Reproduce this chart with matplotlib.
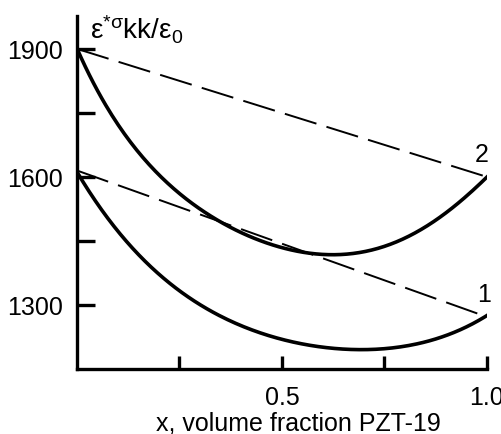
import numpy as np
import matplotlib.pyplot as plt

plt.rcParams['font.family'] = ['Liberation Sans', 'DejaVu Sans']
plt.rcParams['mathtext.fontset'] = 'custom'
plt.rcParams['mathtext.rm'] = 'Liberation Sans'
plt.rcParams['mathtext.it'] = 'Liberation Sans'

# solid curves
x_curve_2 = np.array([0.0, 0.04, 0.12, 0.20, 0.228, 0.286, 0.367, 0.45, 0.54, 0.64, 0.69, 0.80, 0.92, 1.0])
eps_2 = np.array([1900, 1823, 1689, 1610, 1584, 1530, 1479, 1455, 1428, 1417, 1419, 1460, 1530, 1600])
x_curve_1 = np.array([0.0, 0.04, 0.12, 0.20, 0.286, 0.367, 0.49, 0.55, 0.64, 0.69, 0.80, 0.92, 1.0])
eps_1 = np.array([1615, 1548, 1448, 1368, 1314, 1267, 1227, 1207, 1193, 1190, 1207, 1241, 1272])

# dashed straight lines (end points)
x_line = np.array([0.0, 1.0])
line_2 = np.array([1900, 1600])
line_1 = np.array([1615, 1272])

fig = plt.figure(figsize=(5.02, 4.35), dpi=100)
ax = fig.add_axes([77 / 502, 65 / 435, 410 / 502, 353 / 435])

# smooth the read points a bit with a polyfit
xs = np.linspace(0, 1, 200)
ax.plot(xs, np.polyval(np.polyfit(x_curve_2, eps_2, 5), xs), color='black', lw=2.6)
ax.plot(xs, np.polyval(np.polyfit(x_curve_1, eps_1, 4), xs), color='black', lw=2.6)
ax.plot(x_line, line_2, color='black', lw=1.4, dashes=(17, 5.4))
ax.plot(x_line, line_1, color='black', lw=1.4, dashes=(17, 5.4))

ax.text(0.988, 1654, '2', fontsize=18, ha='center', va='center')
ax.text(0.993, 1326, '1', fontsize=18, ha='center', va='center')

ax.set_xlim(0, 1.0)
ax.set_ylim(1150, 1977)
ax.spines['top'].set_visible(False)
ax.spines['right'].set_visible(False)
ax.spines['left'].set_linewidth(2.4)
ax.spines['bottom'].set_linewidth(2.4)

ax.set_xticks([0.25, 0.5, 0.75, 1.0])
ax.set_xticklabels(['', '0.5', '', '1.0'])
ax.set_yticks([1300, 1450, 1600, 1750, 1900])
ax.set_yticklabels(['1300', '', '1600', '', '1900'])
ax.tick_params(direction='in', width=2.4, labelsize=18)
ax.tick_params(axis='x', length=9.5, pad=11.5)
ax.tick_params(axis='y', length=13, pad=10)

fig.text(298 / 502, (435 - 431) / 435, 'x, volume fraction PZT-19', fontsize=18,
         ha='center', va='baseline')
fig.text(90 / 502, (435 - 30) / 435, r'ε$^{*σ}$kk/ε$_0$',
         fontsize=20, ha='left', va='center')

fig.savefig('out.png', dpi=100)
